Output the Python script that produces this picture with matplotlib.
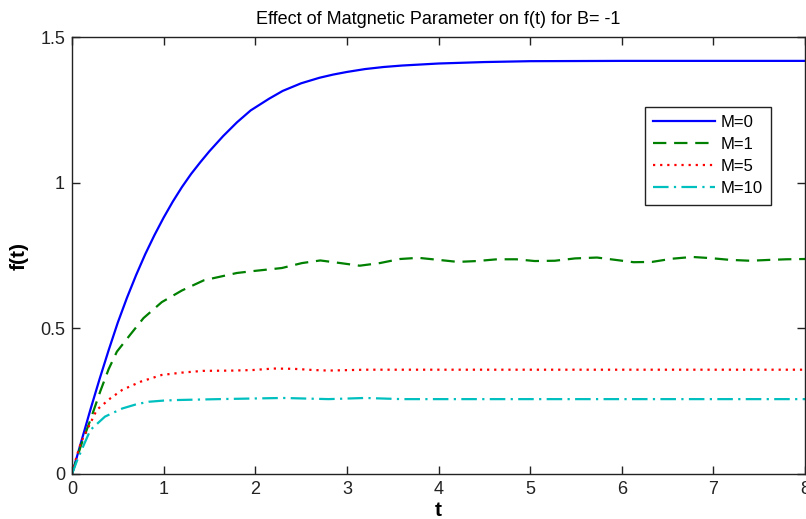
import matplotlib
matplotlib.use("Agg")
import matplotlib.pyplot as plt

plt.rcParams['font.family'] = ['Liberation Sans', 'DejaVu Sans']

t_m0 = [0, 0.1, 0.2, 0.3, 0.4, 0.5, 0.6, 0.7, 0.8, 0.9, 1.0, 1.1, 1.2, 1.3, 1.4, 1.5,
        1.65, 1.8, 1.95, 2.15, 2.3, 2.5, 2.7, 2.85, 3.0, 3.2, 3.4, 3.6, 4.0, 4.5, 5.0, 6.0, 7.0, 8.0]
f_m0 = [0, 0.11, 0.22, 0.325, 0.425, 0.52, 0.605, 0.683, 0.755, 0.82, 0.88, 0.935, 0.985, 1.03, 1.07, 1.108,
        1.16, 1.207, 1.248, 1.288, 1.315, 1.341, 1.36, 1.371, 1.38, 1.39, 1.397, 1.402, 1.409, 1.414, 1.417,
        1.418, 1.418, 1.418]

t_m1 = [0, 0.1, 0.2, 0.31, 0.4, 0.49, 0.64, 0.78, 0.98, 1.2, 1.44, 1.8, 1.99, 2.29, 2.51, 2.71,
        2.93, 3.14, 3.36, 3.58, 3.78, 4.0, 4.21, 4.42, 4.64, 4.85, 5.05, 5.27, 5.49, 5.73,
        5.93, 6.13, 6.33, 6.55, 6.77, 6.97, 7.18, 7.4, 7.62, 7.8, 8.0]
f_m1 = [0, 0.1, 0.185, 0.285, 0.36, 0.42, 0.48, 0.535, 0.59, 0.63, 0.665, 0.69, 0.697, 0.707, 0.724, 0.733,
        0.724, 0.715, 0.724, 0.738, 0.742, 0.735, 0.728, 0.731, 0.737, 0.737, 0.731, 0.732, 0.740, 0.743,
        0.735, 0.727, 0.728, 0.739, 0.745, 0.741, 0.735, 0.732, 0.735, 0.737, 0.738]

t_m5 = [0, 0.05, 0.1, 0.2, 0.27, 0.42, 0.55, 0.75, 0.98, 1.2, 1.43, 1.76, 1.98, 2.2, 2.42,
        2.63, 2.8, 3.2, 4.0, 5.0, 6.0, 7.0, 8.0]
f_m5 = [0, 0.06, 0.11, 0.174, 0.22, 0.26, 0.289, 0.317, 0.34, 0.348, 0.354, 0.355, 0.357, 0.362, 0.361,
        0.357, 0.355, 0.358, 0.358, 0.358, 0.358, 0.358, 0.358]

t_m10 = [0, 0.06, 0.2, 0.36, 0.55, 0.71, 0.84, 1.0, 1.16, 1.6, 2.3, 2.8, 3.2, 3.6, 4.5,
         5.5, 6.5, 7.5, 8.0]
f_m10 = [0, 0.05, 0.151, 0.197, 0.225, 0.24, 0.248, 0.252, 0.254, 0.257, 0.261, 0.257, 0.261, 0.257, 0.257,
         0.257, 0.257, 0.257, 0.257]

labels = ['M=0', 'M=1', 'M=5', 'M=10']
x_ticks = [0, 1, 2, 3, 4, 5, 6, 7, 8]
y_ticks = [0, 0.5, 1, 1.5]
y_tick_labels = ['0', '0.5', '1', '1.5']

fig = plt.figure(figsize=(8.06, 5.19), dpi=100)
ax = fig.add_axes([72/806, 45/519, 733/806, 437/519])

lw = 1.6
ax.plot(t_m0, f_m0, color=(0, 0, 1), lw=lw, label=labels[0])
ax.plot(t_m1, f_m1, color=(0, 0.5, 0), lw=lw, dashes=(6, 3.5), label=labels[1])
ax.plot(t_m5, f_m5, color=(1, 0, 0), lw=lw, dashes=(1, 2.2), label=labels[2])
ax.plot(t_m10, f_m10, color=(0, 0.75, 0.75), lw=lw, dashes=(7, 2.4, 1, 2.4), label=labels[3])

ax.set_xlim(0, 8)
ax.set_ylim(0, 1.5)
ax.set_xticks(x_ticks)
ax.set_yticks(y_ticks)
ax.set_yticklabels(y_tick_labels)
ax.tick_params(direction='in', length=6, width=1, top=True, right=True,
               labelsize=13, pad=5, colors='#222222')
for s in ax.spines.values():
    s.set_linewidth(1.0)
    s.set_color('#222222')

ax.set_title('Effect of Matgnetic Parameter on f(t) for B= -1', fontsize=13, pad=9)
ax.set_xlabel('t', fontsize=15, fontweight='bold', labelpad=2)
ax.set_ylabel('f(t)', fontsize=15, fontweight='bold', labelpad=8)

leg = ax.legend(loc='upper right', bbox_to_anchor=(0.954, 0.84), borderaxespad=0,
                fontsize=12, handlelength=3.7, fancybox=False, framealpha=1,
                edgecolor='#222222', labelspacing=0.42, borderpad=0.5, handletextpad=0.35)
leg.get_frame().set_linewidth(1.0)

fig.savefig('out.png', dpi=100)
